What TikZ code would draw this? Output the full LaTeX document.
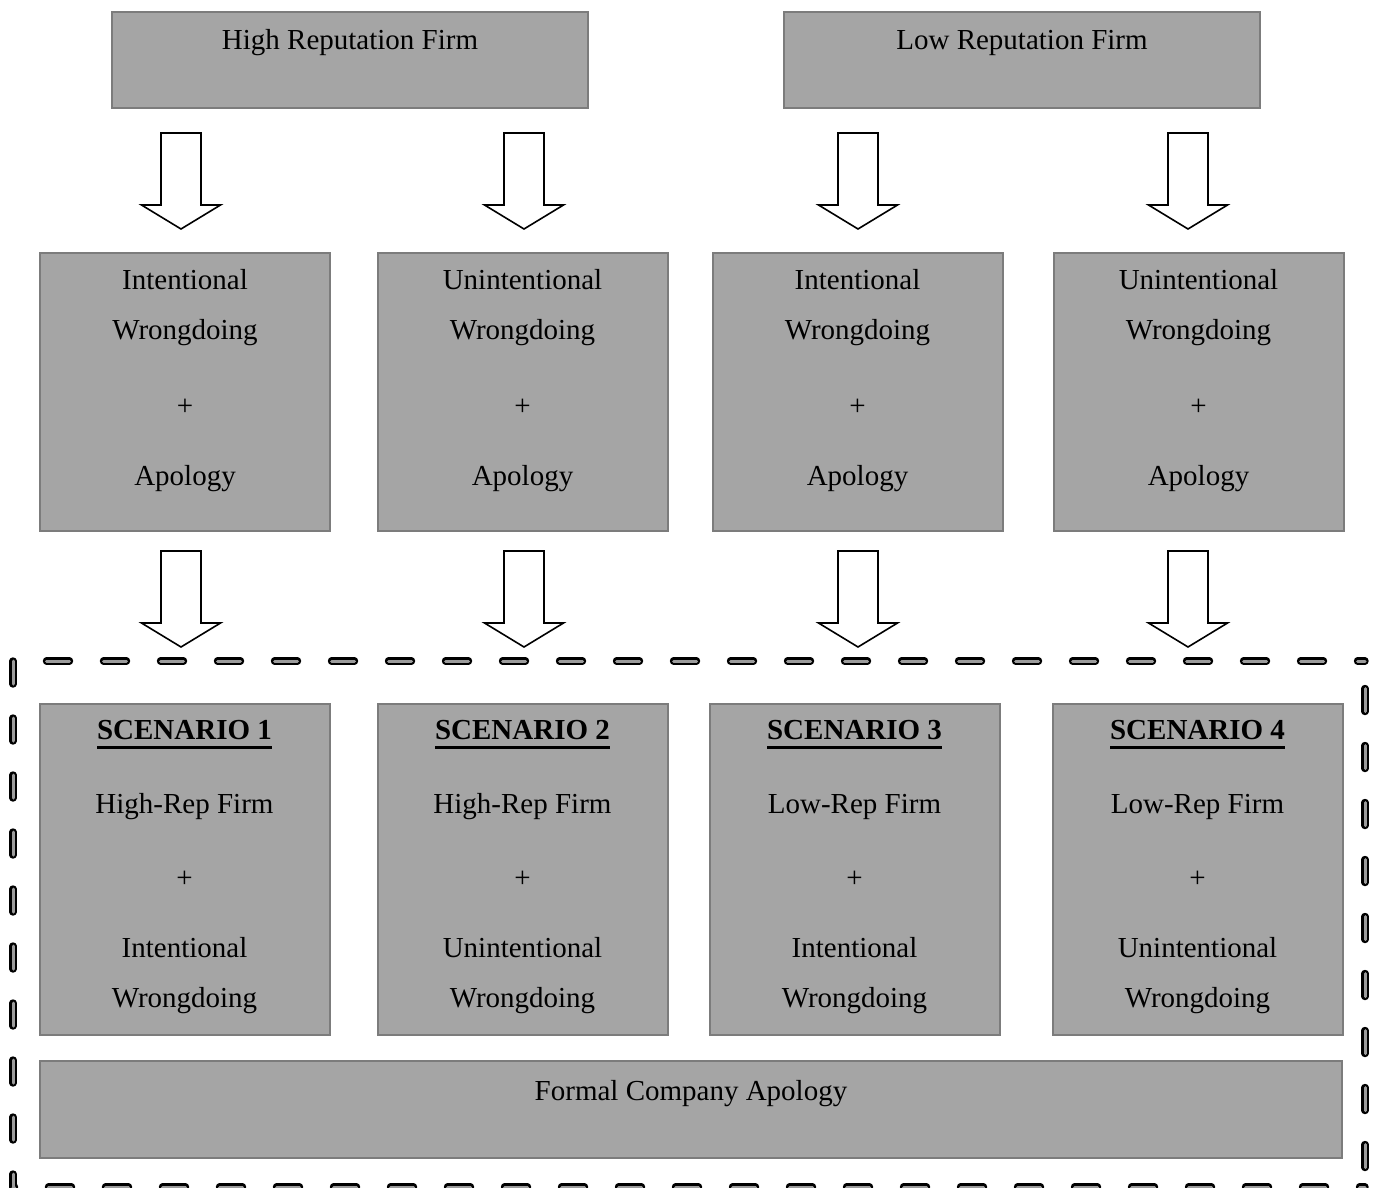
\documentclass[tikz,border=0pt]{standalone}
\usepackage{fontspec}
\setmainfont{Liberation Serif}
\usetikzlibrary{calc}

\definecolor{boxfill}{HTML}{A5A5A5}
\definecolor{boxline}{HTML}{7C7C7C}
\definecolor{dashfill}{HTML}{9C9C9C}

% underline placed lower than \underline would, as in the printed headings
\newcommand\scenhead[1]{\setbox0\hbox{\bfseries #1}\rlap{\rule[-4.8pt]{\wd0}{1.2pt}}\box0}

% hollow block arrow from a top point to a tip point (same x)
\newcommand\flowarrow[2]{%
  \path (#1) coordinate (arrtop) (#2) coordinate (arrtip);
  \draw[blockarrow]
    ([xshift=-10pt]arrtop) -- ([xshift=10pt]arrtop)
    -- ([xshift=10pt,yshift=12pt]arrtip)
    -- ([xshift=19.75pt,yshift=12pt]arrtip) -- (arrtip)
    -- ([xshift=-19.75pt,yshift=12pt]arrtip)
    -- ([xshift=-10pt,yshift=12pt]arrtip) -- cycle;}

\tikzset{
  box/.style={draw=boxline, fill=boxfill, line width=1pt, inner sep=0pt, outer sep=0pt},
  label/.style={anchor=base, inner sep=0pt, font=\fontsize{14.5pt}{17pt}\selectfont},
  blockarrow/.style={draw=black, fill=white, line width=0.8pt, line join=miter},
  dashouter/.style={draw=black, line width=3.7pt, line cap=round, dash pattern=on 11.5pt off 17pt},
  dashinner/.style={draw=dashfill, line width=1.5pt, line cap=round, dash pattern=on 11.5pt off 17pt},
}

\begin{document}
\begin{tikzpicture}[x=0.5pt,y=-0.5pt]
\useasboundingbox (0,0) rectangle (1374,1187);
\clip (0,0) rectangle (1374,1187);

% firm reputation boxes
\node[box, minimum width=238pt, minimum height=48pt] (hr) at (350,60) {};
\node[box, minimum width=238pt, minimum height=48pt] (lr) at (1022,60) {};
\node[label] (hrt) at (350,50) {High Reputation Firm};
\node[label] (lrt) at (1022,50) {Low Reputation Firm};

% wrongdoing type boxes
\foreach \n/\cx/\kind in {m1/185/Intentional, m2/522.5/Unintentional, m3/857.5/Intentional, m4/1198.5/Unintentional}{
  \node[box, minimum width=145pt, minimum height=139pt] (\n) at (\cx,392) {};
  \node[label] (\n a) at (\cx,290) {\kind};
  \node[label] (\n b) at (\cx,339) {Wrongdoing};
  \node[label] (\n c) at (\cx,415) {+};
  \node[label] (\n d) at (\cx,485) {Apology};
}

% scenario boxes
\foreach \n/\cx/\num/\firm/\kind in {s1/184.5/1/High-Rep Firm/Intentional, s2/522.5/2/High-Rep Firm/Unintentional, s3/854.5/3/Low-Rep Firm/Intentional, s4/1197.5/4/Low-Rep Firm/Unintentional}{
  \node[box, minimum width=145pt, minimum height=165.5pt] (\n) at (\cx,869.5) {};
  \node[label] (\n a) at (\cx,739) {\scenhead{SCENARIO \num}};
  \node[label] (\n b) at (\cx,813) {\firm};
  \node[label] (\n c) at (\cx,887) {+};
  \node[label] (\n d) at (\cx,957) {\kind};
  \node[label] (\n e) at (\cx,1007) {Wrongdoing};
}

% common apology box
\node[box, minimum width=651pt, minimum height=48.5pt] (fa) at (691,1109.5) {};
\node[label] (fat) at (691,1100) {Formal Company Apology};

% arrows from firm boxes to wrongdoing boxes
\flowarrow{$(m1.north |- hr.south)+(-4,25)$}{$(m1.north)+(-4,-24)$}
\flowarrow{$(m2.north |- hr.south)+(1.5,25)$}{$(m2.north)+(1.5,-24)$}
\flowarrow{$(m3.north |- lr.south)+(0.5,25)$}{$(m3.north)+(0.5,-24)$}
\flowarrow{$(m4.north |- lr.south)+(-10.5,25)$}{$(m4.north)+(-10.5,-24)$}

% arrows from wrongdoing boxes to scenarios
\flowarrow{$(m1.south)+(-4,20)$}{$(s1.north -| m1.south)+(-4,-57)$}
\flowarrow{$(m2.south)+(1.5,20)$}{$(s2.north -| m2.south)+(1.5,-57)$}
\flowarrow{$(m3.south)+(0.5,20)$}{$(s3.north -| m3.south)+(0.5,-57)$}
\flowarrow{$(m4.south)+(-10.5,20)$}{$(s4.north -| m4.south)+(-10.5,-57)$}

% dashed frame around the scenarios
\coordinate (ftl) at (13,661);
\coordinate (ftr) at (1365,661);
\coordinate (fbl) at (13,1187);
\coordinate (fbr) at (1365,1187);
\foreach \st in {dashouter, dashinner}{
  \draw[\st, dash phase=11.75pt] (ftl) -- (ftr);
  \draw[\st, dash phase=0pt] (ftl) -- (fbl);
  \draw[\st, dash phase=14.75pt] (ftr) -- (fbr);
  \draw[\st, dash phase=10.75pt] (fbl) -- (fbr);
}
\end{tikzpicture}
\end{document}
